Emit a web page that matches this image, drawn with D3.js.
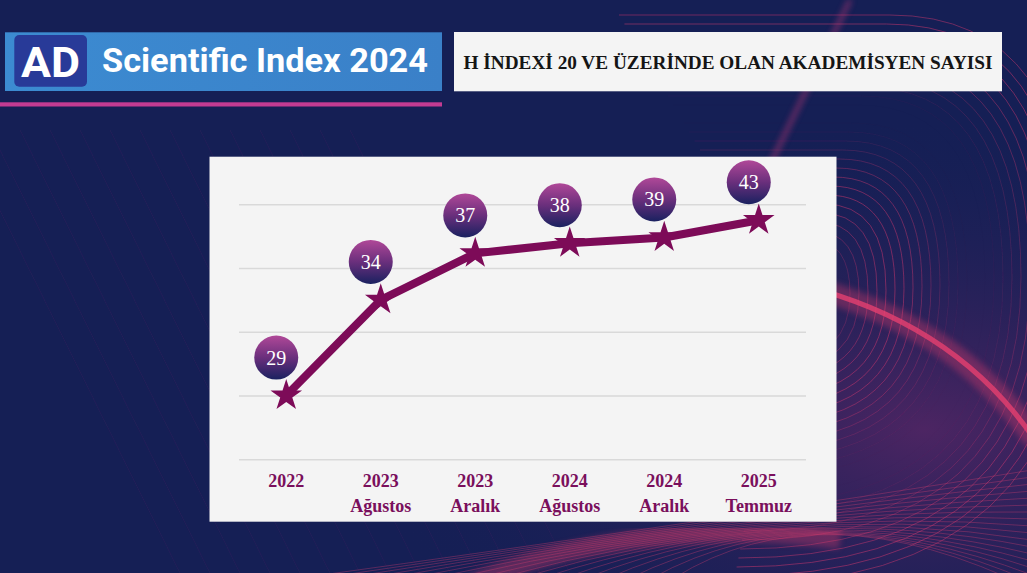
<!DOCTYPE html>
<html><head><meta charset="utf-8">
<script src="https://cdn.jsdelivr.net/npm/d3@7"></script>
<style>html,body{margin:0;padding:0;background:#151f55;overflow:hidden}</style>
</head><body><svg id="c" width="1027" height="573"></svg>
<script>
// ---- data ----
const categories = ["2022", "2023 Ağustos", "2023 Aralık", "2024 Ağustos", "2024 Aralık", "2025 Temmuz"];
const categoryLines = [["2022"], ["2023", "Ağustos"], ["2023", "Aralık"], ["2024", "Ağustos"], ["2024", "Aralık"], ["2025", "Temmuz"]];
const labelValues = [29, 34, 37, 38, 39, 43];          // numbers printed in the bubbles
const lineLevels = [10, 25, 32.3, 33.9, 34.8, 37.5];   // height of the line on the hidden axis
const gridTicks = [0, 10, 20, 30, 40];
const logoText = "AD";
const brandText = "Scientific Index 2024";
const titleText = "H İNDEXİ 20 VE ÜZERİNDE OLAN AKADEMİSYEN SAYISI";

const W = 1027, H = 573;
const svg = d3.select("#c");
const defs = svg.append("defs");

// ---- background ----
svg.append("rect").attr("width", W).attr("height", H).attr("fill", "#151f55");
const glow = defs.append("radialGradient").attr("id", "glow").attr("cx", "0.9").attr("cy", "0.75").attr("r", "0.55");
glow.append("stop").attr("offset", "0").attr("stop-color", "#7a2a6e").attr("stop-opacity", 0.55);
glow.append("stop").attr("offset", "1").attr("stop-color", "#151f55").attr("stop-opacity", 0);
svg.append("rect").attr("width", W).attr("height", H).attr("fill", "url(#glow)");
defs.append("filter").attr("id", "blur3").append("feGaussianBlur").attr("stdDeviation", 3);
defs.append("filter").attr("id", "blur1").append("feGaussianBlur").attr("stdDeviation", 0.6);

const deco = svg.append("g").attr("fill", "none").attr("filter", "url(#blur1)");
// nested reversed-C lines on the right
d3.range(0, 26).forEach(i => {
  const cx = 790, cy = 300, r = 60 + i * 9;
  const p = d3.path();
  p.moveTo(cx - r * 0.6, cy - r);
  p.lineTo(cx + r * 0.35, cy - r);
  p.quadraticCurveTo(cx + r, cy - r, cx + r, cy - r * 0.1);
  p.quadraticCurveTo(cx + r, cy + r, cx - r * 0.2, cy + r);
  deco.append("path").attr("d", p.toString())
    .attr("stroke", "#d2396f").attr("stroke-width", 1)
    .attr("opacity", 0.25 + 0.25 * Math.sin(i / 3));
});
// bottom sweeping lines
d3.range(0, 18).forEach(i => {
  const p = d3.path();
  p.moveTo(300 + i * 22, H + 5);
  p.quadraticCurveTo(720 + i * 6, 520 - i * 2, W + 5, 470 + i * 7);
  deco.append("path").attr("d", p.toString())
    .attr("stroke", "#d8406f").attr("stroke-width", 1).attr("opacity", 0.35);
});
// faint diagonal texture on left
d3.range(0, 14).forEach(i => {
  deco.append("line").attr("x1", -40 + i * 30).attr("y1", 130).attr("x2", 180 + i * 30).attr("y2", 573)
    .attr("stroke", "#6a2a6a").attr("stroke-width", 1).attr("opacity", 0.15);
});
// bright bands
const band = d3.path();
band.moveTo(820, 290); band.quadraticCurveTo(960, 330, 1035, 440);
svg.append("path").attr("d", band.toString()).attr("fill", "none").attr("stroke", "#e23c6c")
  .attr("stroke-width", 22).attr("opacity", 0.35).attr("filter", "url(#blur3)");
svg.append("path").attr("d", band.toString()).attr("fill", "none").attr("stroke", "#e6406f")
  .attr("stroke-width", 5).attr("opacity", 0.8).attr("filter", "url(#blur1)");
const band2 = d3.path();
band2.moveTo(470, H + 10); band2.quadraticCurveTo(640, 515, 840, 540);
svg.append("path").attr("d", band2.toString()).attr("fill", "none").attr("stroke", "#e23c6c")
  .attr("stroke-width", 18).attr("opacity", 0.35).attr("filter", "url(#blur3)");
svg.append("line").attr("x1", 850).attr("y1", 0).attr("x2", 770).attr("y2", 165)
  .attr("stroke", "#c93a78").attr("stroke-width", 4).attr("opacity", 0.6).attr("filter", "url(#blur3)");

// ---- header ----
const hg = defs.append("linearGradient").attr("id", "hdr");
hg.append("stop").attr("offset", "0").attr("stop-color", "#3c8bd1");
hg.append("stop").attr("offset", "1").attr("stop-color", "#3a80c8");
svg.append("rect").attr("x", 5).attr("y", 32.3).attr("width", 437).attr("height", 58.7).attr("fill", "url(#hdr)");
svg.append("rect").attr("x", 14.3).attr("y", 35).attr("width", 72.7).attr("height", 51.7).attr("rx", 5).attr("fill", "#283a98");
svg.append("text").attr("x", 50.6).attr("y", 76.7).attr("text-anchor", "middle")
  .attr("font-family", "Roboto, sans-serif").attr("font-weight", 700).attr("font-size", 42)
  .attr("textLength", 59).attr("lengthAdjust", "spacingAndGlyphs").attr("fill", "#fff").text(logoText);
svg.append("text").attr("x", 102).attr("y", 72)
  .attr("font-family", "Roboto, sans-serif").attr("font-weight", 700).attr("font-size", 34)
  .attr("textLength", 326).attr("lengthAdjust", "spacingAndGlyphs").attr("fill", "#fff").text(brandText);
svg.append("rect").attr("x", 0).attr("y", 102.3).attr("width", 442).attr("height", 4.2).attr("fill", "#c23b92");

svg.append("rect").attr("x", 454).attr("y", 32).attr("width", 548).attr("height", 59.3).attr("fill", "#f4f4f4");
svg.append("text").attr("x", 728).attr("y", 69).attr("text-anchor", "middle")
  .attr("font-family", "'Liberation Serif', serif").attr("font-weight", 700).attr("font-size", 18.5)
  .attr("textLength", 529).attr("lengthAdjust", "spacingAndGlyphs").attr("fill", "#151515").text(titleText);

// ---- chart panel ----
svg.append("rect").attr("x", 209.5).attr("y", 156.7).attr("width", 627).attr("height", 365).attr("fill", "#f4f4f4");

const plotLeft = 239, plotRight = 806, plotBottom = 459.3, plotTop = 204.3;
const x = d3.scalePoint().domain(categories).range([plotLeft, plotRight]).padding(0.5);
const y = d3.scaleLinear().domain([0, 40]).range([plotBottom, plotTop]);

// gridlines via axis
const grid = svg.append("g").attr("transform", `translate(${plotLeft},0)`)
  .call(d3.axisLeft(y).tickValues(gridTicks).tickSize(-(plotRight - plotLeft)).tickFormat(""));
grid.select(".domain").remove();
grid.selectAll(".tick line").attr("stroke", "#d9d9d9").attr("stroke-width", 1.5);

// x labels
const xl = svg.append("g");
categories.forEach((c, i) => {
  const t = xl.append("text").attr("x", x(c)).attr("y", 487).attr("text-anchor", "middle")
    .attr("font-family", "'Liberation Serif', serif").attr("font-weight", 700).attr("font-size", 18)
    .attr("fill", "#7a0f5c");
  categoryLines[i].forEach((ln, j) => {
    t.append("tspan").attr("x", x(c)).attr("dy", j === 0 ? 0 : 25).text(ln);
  });
});

// line
const pts = categories.map((c, i) => ({ c, v: lineLevels[i], lab: labelValues[i] }));
svg.append("path").datum(pts)
  .attr("d", d3.line().x(d => x(d.c)).y(d => y(d.v)))
  .attr("fill", "none").attr("stroke", "#7d0b58").attr("stroke-width", 8).attr("stroke-linejoin", "round");

// stars
svg.append("g").selectAll("path").data(pts).join("path")
  .attr("transform", d => `translate(${x(d.c)},${y(d.v)})`)
  .attr("d", d3.symbol(d3.symbolStar, 310))
  .attr("fill", "#7d0b58");

// bubbles
const bg = defs.append("linearGradient").attr("id", "bub").attr("x1", 0).attr("y1", 0).attr("x2", 0).attr("y2", 1);
bg.append("stop").attr("offset", "0").attr("stop-color", "#b04898");
bg.append("stop").attr("offset", "0.5").attr("stop-color", "#6a2f7c");
bg.append("stop").attr("offset", "1").attr("stop-color", "#1a2160");
const bub = svg.append("g").selectAll("g").data(pts).join("g")
  .attr("transform", d => `translate(${x(d.c) - 10},${y(d.v) - 38})`);
bub.append("circle").attr("r", 22).attr("fill", "url(#bub)");
bub.append("text").attr("text-anchor", "middle").attr("dy", 7)
  .attr("font-family", "'Liberation Serif', serif").attr("font-size", 20).attr("fill", "#fff")
  .text(d => d.lab);
</script></body></html>
